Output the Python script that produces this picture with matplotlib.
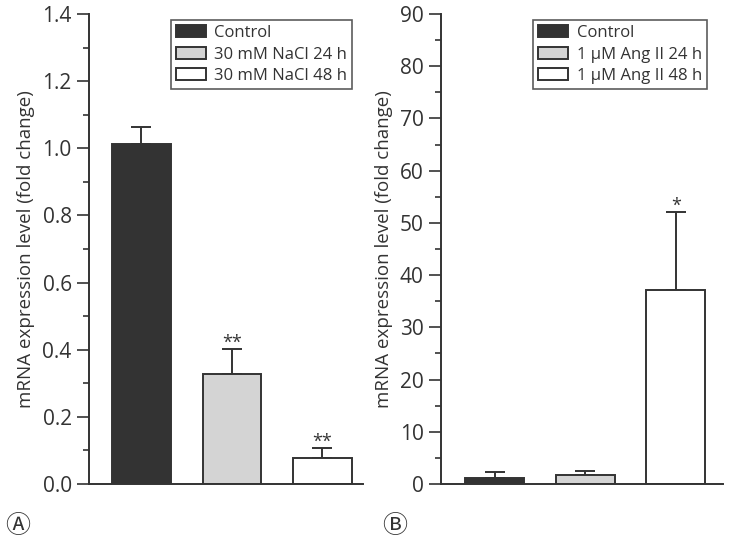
import matplotlib.pyplot as plt
from matplotlib.ticker import MultipleLocator

plt.rcParams['font.family'] = ['Open Sans', 'DejaVu Sans']

INK = "#333333"
FILLS = ["#333333", "#d4d4d4", "#ffffff"]

labels_a = ["Control", "30 mM NaCl 24 h", "30 mM NaCl 48 h"]
means_a = [1.012, 0.328, 0.077]
errs_a = [0.050, 0.075, 0.029]
stars_a = ["", "**", "**"]

labels_b = ["Control", "1 \u03bcM Ang II 24 h", "1 \u03bcM Ang II 48 h"]
means_b = [1.2, 1.7, 37.2]
errs_b = [1.1, 0.85, 14.8]
stars_b = ["", "", "*"]

fig = plt.figure(figsize=(7.31, 5.43), dpi=100)
ax_a = fig.add_axes([0.1218, 0.1087, 0.3748, 0.8655])
ax_b = fig.add_axes([0.6033, 0.1087, 0.3857, 0.8655])


def draw_panel(ax, labels, means, errs, stars, ymax, major, minor, xlim, star_pad,
               leg_x):
    xs = range(len(means))
    bars = ax.bar(xs, means, width=0.65, color=FILLS, edgecolor=INK, linewidth=1.4,
                  zorder=2)
    ax.errorbar(xs, means, yerr=[[0] * len(errs), errs], fmt="none", ecolor=INK,
                elinewidth=1.4, capsize=7.5, capthick=1.4, zorder=1)
    for x, m, e, s in zip(xs, means, errs, stars):
        if s:
            ax.text(x, m + e + star_pad, s, ha="center", va="bottom", fontsize=13,
                    color=INK)
    ax.set_ylim(0, ymax)
    ax.set_xlim(*xlim)
    ax.yaxis.set_major_locator(MultipleLocator(major))
    ax.yaxis.set_minor_locator(MultipleLocator(minor))
    ax.set_xticks([])
    for side in ["top", "right"]:
        ax.spines[side].set_visible(False)
    for side in ["left", "bottom"]:
        ax.spines[side].set_color(INK)
        ax.spines[side].set_linewidth(1.4)
    ax.tick_params(axis="y", which="major", length=8.5, width=1.2, color=INK,
                   labelsize=15, labelcolor=INK, pad=4)
    ax.tick_params(axis="y", which="minor", length=4.5, width=1.2, color=INK)
    ax.set_ylabel("mRNA expression level (fold change)", fontsize=13.5, color=INK,
                  labelpad=5)
    leg = ax.legend(bars, labels, loc="upper right", bbox_to_anchor=(leg_x, 0.987),
                    fontsize=12, frameon=True, fancybox=False, edgecolor=INK,
                    handlelength=1.8, handleheight=0.7, handletextpad=0.5,
                    borderpad=0.3, labelspacing=0.33, borderaxespad=0.0)
    leg.get_frame().set_linewidth(1.2)
    for t in leg.get_texts():
        t.set_color(INK)


draw_panel(ax_a, labels_a, means_a, errs_a, stars_a, 1.4, 0.2, 0.1,
           (-0.58, 2.45), -0.008, 0.96)
draw_panel(ax_b, labels_b, means_b, errs_b, stars_b, 90, 10, 5,
           (-0.59, 2.52), -0.5, 0.943)

# panel tags
circ = ["Noto Sans CJK JP", "DejaVu Sans"]
fig.text(18 / 731, 1 - 526 / 543, "\u24b6", fontsize=18, color=INK, ha="center",
         va="center", family=circ)
fig.text(395 / 731, 1 - 526 / 543, "\u24b7", fontsize=18, color=INK, ha="center",
         va="center", family=circ)

fig.savefig("out.png", dpi=100)
